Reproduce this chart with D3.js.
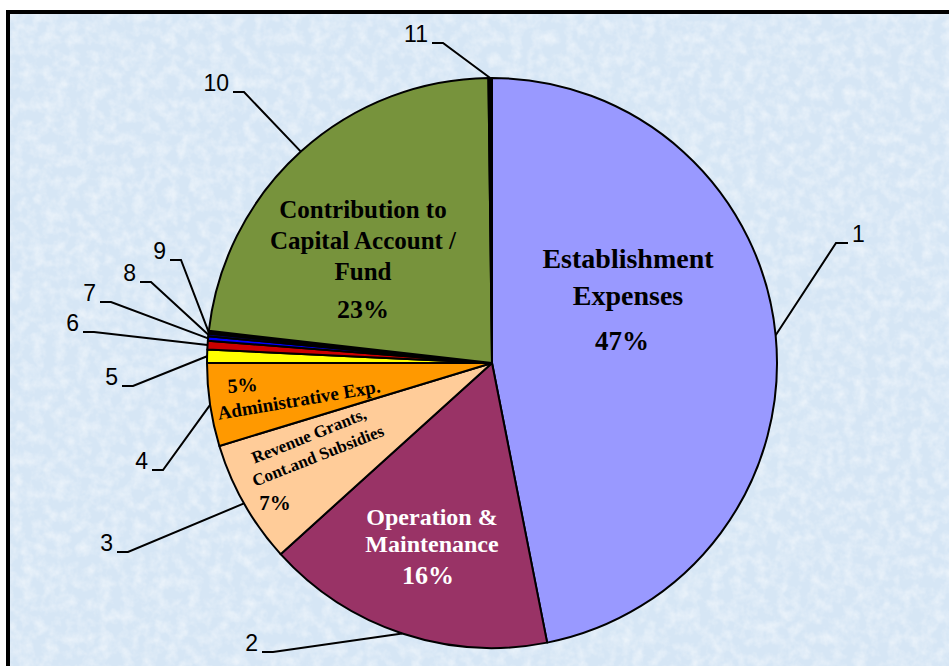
<!DOCTYPE html>
<html>
<head>
<meta charset="utf-8">
<script src="https://cdn.jsdelivr.net/npm/d3@7"></script>
<style>
  body { margin: 0; background: #fff; }
  svg { display: block; }
</style>
</head>
<body>
<div id="chart"></div>
<script>
// slice numbers, names and shares (%)
const sliceIds = ["1", "2", "3", "4", "5", "6", "7", "8", "9", "10", "11"];
const categories = [
  "Establishment Expenses", "Operation & Maintenance", "Revenue Grants, Cont.and Subsidies",
  "Administrative Exp.", "Item 5", "Item 6", "Item 7", "Item 8", "Item 9",
  "Contribution to Capital Account / Fund", "Item 11"
];
const values = [46.9, 16.4, 7.0, 4.7, 0.75, 0.5, 0.25, 0.15, 0.15, 23.0, 0.2];
const colors = ["#9999ff", "#993366", "#ffcc99", "#ff9900", "#ffff00", "#cc0000",
                "#0000ff", "#000080", "#000000", "#77933c", "#000000"];

// where each number label sits (text edge x, leader y, side)
const labelAt = [
  [852, 243, "r"], [258, 652, "l"], [113, 552, "l"], [148, 470, "l"], [118, 386, "l"],
  [79, 332, "l"], [96, 302, "l"], [136, 282, "l"], [166, 260, "l"], [229, 92, "l"], [428, 43, "l"]
];

const width = 949, height = 666;
const cx = 492, cy = 363, radius = 285;

const svg = d3.select("#chart")
  .append("svg")
  .attr("width", width)
  .attr("height", height);

// fine mottled light blue background
const defs = svg.append("defs");
const noise = defs.append("filter").attr("id", "mottle")
  .attr("x", 0).attr("y", 0).attr("width", "100%").attr("height", "100%");
noise.append("feTurbulence")
  .attr("type", "fractalNoise").attr("baseFrequency", 0.09)
  .attr("numOctaves", 3).attr("seed", 3);
noise.append("feColorMatrix")
  .attr("type", "matrix")
  .attr("values", "0 0 0 0 1  0 0 0 0 1  0 0 0 0 1  1.6 0 0 0 -0.6");
noise.append("feComposite").attr("operator", "in").attr("in2", "SourceGraphic");

svg.append("rect")
  .attr("x", 8).attr("y", 12).attr("width", width).attr("height", height)
  .attr("fill", "#d6e6f5");
svg.append("rect")
  .attr("x", 8).attr("y", 12).attr("width", width).attr("height", height)
  .attr("fill", "#fff")
  .attr("opacity", 0.6)
  .attr("filter", "url(#mottle)");
svg.append("rect")
  .attr("x", 8).attr("y", 12).attr("width", width + 20).attr("height", height + 20)
  .attr("fill", "none")
  .attr("stroke", "#000")
  .attr("stroke-width", 4);

const pie = d3.pie().sort(null).value(d => d)(values);
const arc = d3.arc().innerRadius(0).outerRadius(radius);

const g = svg.append("g").attr("transform", `translate(${cx},${cy})`);

g.selectAll("path")
  .data(pie)
  .enter()
  .append("path")
  .attr("d", arc)
  .attr("fill", (d, i) => colors[i])
  .attr("stroke", "#000")
  .attr("stroke-width", 2)
  .attr("stroke-linejoin", "round");

// leader lines + numbers
const edge = d => {
  const a = (d.startAngle + d.endAngle) / 2;
  return [cx + radius * Math.sin(a), cy - radius * Math.cos(a)];
};

pie.forEach((d, i) => {
  const [lx, ly, side] = labelAt[i];
  const [ex, ey] = edge(d);
  const near = side === "r" ? lx - 16 : lx + 15;
  const far = side === "r" ? lx - 4 : lx + 4;
  svg.append("polyline")
    .attr("points", `${ex},${ey} ${near},${ly} ${far},${ly}`)
    .attr("fill", "none")
    .attr("stroke", "#000")
    .attr("stroke-width", 2);
  svg.append("text")
    .attr("x", lx)
    .attr("y", ly - 1)
    .attr("text-anchor", side === "r" ? "start" : "end")
    .style("font-family", "'Liberation Sans Narrow', 'Liberation Sans', Arial, sans-serif")
    .style("font-size", "23px")
    .text(sliceIds[i]);
});

// labels inside slices
const inside = [
  { x: 628, y: 268, size: 28, fill: "#000", rot: 0, text: "Establishment" },
  { x: 628, y: 305, size: 28, fill: "#000", rot: 0, text: "Expenses" },
  { x: 622, y: 350, size: 27, fill: "#000", rot: 0, text: values[0].toFixed(0) + "%" },
  { x: 432, y: 525, size: 24, fill: "#fff", rot: 0, text: "Operation &" },
  { x: 432, y: 552, size: 24, fill: "#fff", rot: 0, text: "Maintenance" },
  { x: 428, y: 584, size: 26, fill: "#fff", rot: 0, text: values[1].toFixed(0) + "%" },
  { x: 363, y: 218, size: 25, fill: "#000", rot: 0, text: "Contribution to" },
  { x: 363, y: 249, size: 25, fill: "#000", rot: 0, text: "Capital Account /" },
  { x: 363, y: 280, size: 25, fill: "#000", rot: 0, text: "Fund" },
  { x: 363, y: 318, size: 26, fill: "#000", rot: 0, text: values[9].toFixed(0) + "%" },
  { x: 243, y: 392, size: 20, fill: "#000", rot: -4, text: values[3].toFixed(0) + "%" },
  { x: 300, y: 406, size: 19, fill: "#000", rot: -9.6, text: "Administrative Exp." },
  { x: 311, y: 441, size: 17, fill: "#000", rot: -22, text: "Revenue Grants," },
  { x: 320, y: 461, size: 17, fill: "#000", rot: -21.5, text: "Cont.and Subsidies" },
  { x: 275, y: 510, size: 21, fill: "#000", rot: 0, text: values[2].toFixed(0) + "%" }
];

svg.selectAll("text.inside")
  .data(inside)
  .enter()
  .append("text")
  .attr("class", "inside")
  .attr("transform", d => `translate(${d.x},${d.y}) rotate(${d.rot})`)
  .attr("text-anchor", "middle")
  .style("font-family", "'Liberation Serif', 'Times New Roman', serif")
  .style("font-weight", "bold")
  .style("font-size", d => d.size + "px")
  .attr("fill", d => d.fill)
  .text(d => d.text);
</script>
</body>
</html>
